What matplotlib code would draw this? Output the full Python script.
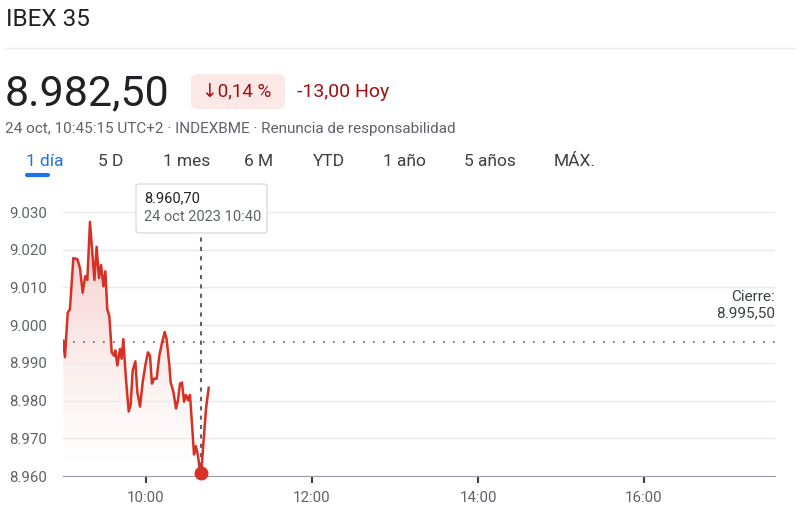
import matplotlib
matplotlib.use("Agg")
import matplotlib.pyplot as plt
import numpy as np
from matplotlib.patches import FancyBboxPatch, Polygon
plt.rcParams['font.family'] = ['Roboto', 'DejaVu Sans']

# minutes relative to 10:00
minutes = [-59.8,-58.6,-56.6,-55,-52.5,-49.6,-47.7,-45.8,-43.9,-42.4,-40.5,-38.6,-37.3,-35.7,-34,-32.5,-30.8,-29.4,-28,-26.5,-24.8,-23.1,-22.2,-20.7,-18.8,-17.6,-16.4,-14.5,-12.5,-11.1,-9.6,-7.7,-6.3,-4.3,-2.4,-0.5,1.4,2.9,4.3,5.8,7.7,9.6,11.6,13.5,14.9,16.9,17.8,19.8,21.7,23.1,24.6,26,27.5,28.9,30.4,31.8,33.3,34.7,36.1,37.6,39,40,41.4,43.4,45.3]
values = [8995.9,8991.5,9003.3,9004.2,9017.8,9017.5,9015.1,9008.6,9013,9012,9027.4,9018.2,9012,9020.8,9012.5,9016,9010.3,9014.3,9004.2,9002.4,8992.8,8991.9,8993.3,8989.3,8993.7,8991.1,8996.3,8985.8,8977.1,8978.8,8988,8990.4,8982.3,8978.4,8984.9,8989.3,8992.8,8991.9,8984.5,8985.8,8985.8,8991.9,8995.4,8998.2,8996.3,8989.3,8984.9,8982.3,8977.9,8980.1,8984.5,8984.8,8979.7,8981.5,8980.1,8981.5,8973.6,8965.7,8967.9,8965.3,8961.3,8960.6,8968.3,8977.9,8983.4]
close_value = 8995.5
marker_time = 10 + 40/60
marker_value = 8960.7
yticks = [8960, 8970, 8980, 8990, 9000, 9010, 9020, 9030]
ytick_labels = ["8.960","8.970","8.980","8.990","9.000","9.010","9.020","9.030"]
xticks = [10, 12, 14, 16]
xtick_labels = ["10:00","12:00","14:00","16:00"]
tabs = ["1 día","5 D","1 mes","6 M","YTD","1 año","5 años","MÁX."]
tab_x = [26, 98, 163, 244, 313, 383, 464, 554]

t = 10 + np.array(minutes)/60
v = np.array(values)
red = "#d93025"
W, H = 800, 514
fig = plt.figure(figsize=(8, 5.14), dpi=100)
ymin, ymax = 8960, 9034
ax = fig.add_axes([63/W, 1-476/H, 712/W, (476-197)/H])
ax.set_xlim(9, 9 + 712/83)
ax.set_ylim(ymin, ymax)

# gradient fill
poly = Polygon(np.column_stack([np.r_[t, t[-1], t[0]], np.r_[v, ymin, ymin]]), closed=True, transform=ax.transData, facecolor='none', edgecolor='none')
ax.add_patch(poly)
grad = np.linspace(0, 1, 256).reshape(-1, 1)
rgba = np.zeros((256, 1, 4)); rgba[..., 0] = 0.85; rgba[..., 1] = 0.19; rgba[..., 2] = 0.15
rgba[..., 3] = grad ** 1.3 * 0.25
im = ax.imshow(rgba, extent=[t[0], t[-1], ymin, v.max()], origin='lower', aspect='auto', zorder=1)
im.set_clip_path(poly)

ax.plot(t, v, color=red, lw=1.8, zorder=3, solid_joinstyle='round')
ax.plot([marker_time], [marker_value], 'o', color=red, ms=9, zorder=4, clip_on=False)
ax.axhline(close_value, color="#5f6368", lw=1.2, ls=(0, (1, 5)), zorder=2)
ax.plot([marker_time, marker_time], [ymin, 9034], color="#5f6368", lw=1.5, ls=(0, (2, 2.5)), zorder=2, clip_on=False)

ax.set_yticks(yticks)
ax.set_yticklabels(ytick_labels)
ax.set_xticks(xticks)
ax.set_xticklabels(xtick_labels)
ax.grid(axis='y', color="#e8eaed", lw=1)
for s in ['top', 'right', 'left']:
    ax.spines[s].set_visible(False)
ax.spines['bottom'].set_color("#9aa0a6")
ax.tick_params(axis='y', length=0, pad=39, labelsize=10.8, labelcolor="#5f6368")
for lab in ax.get_yticklabels():
    lab.set_horizontalalignment('left')
ax.tick_params(axis='x', length=5, width=1.5, color="#3c4043", labelsize=10.8, labelcolor="#5f6368", pad=6)

ax.text(1.0, (9001.2 - ymin)/(ymax - ymin), "Cierre:\n8.995,50", transform=ax.transAxes, ha='right', va='bottom', fontsize=11, color="#3c4043", linespacing=1.2)

# tooltip
tip = FancyBboxPatch((136/W, 1-233/H), 131/W, 49/H, boxstyle="round,pad=0,rounding_size=0.005", transform=fig.transFigure, facecolor='white', edgecolor='#dadce0', lw=1, zorder=10)
fig.patches.append(tip)
fig.text(144/W, 1-198/H, "8.960,70", fontsize=10.5, color="#202124", va='center', zorder=11)
fig.text(144/W, 1-217/H, "24 oct 2023 10:40", fontsize=10.5, color="#5f6368", va='center', zorder=11)

# header
fig.text(6/W, 1-20/H, "IBEX 35", fontsize=17.5, color="#202124", va='center')
fig.add_artist(plt.Line2D([6/W, 795/W], [1-48/H, 1-48/H], color="#e8eaed", lw=1))
fig.text(5/W, 1-94/H, "8.982,50", fontsize=31, color="#202124", va='center')
badge = FancyBboxPatch((191/W, 1-109/H), 94/W, 35/H, boxstyle="round,pad=0,rounding_size=0.01", transform=fig.transFigure, facecolor="#fce8e6", edgecolor='none')
fig.patches.append(badge)
fig.text(202/W, 1-92/H, "↓0,14 %", fontsize=13.5, color="#a50e0e", va='center')
fig.text(297/W, 1-92/H, "-13,00 Hoy", fontsize=14, color="#a50e0e", va='center')
fig.text(5/W, 1-129/H, "24 oct, 10:45:15 UTC+2 · INDEXBME · Renuncia de responsabilidad", fontsize=11, color="#5f6368", va='center')
for i, (lab, x) in enumerate(zip(tabs, tab_x)):
    fig.text(x/W, 1-162/H, lab, fontsize=12.5, color="#1a73e8" if i == 0 else "#3c4043", va='center')
fig.add_artist(plt.Line2D([27/W, 48/W], [1-175/H, 1-175/H], color="#1a73e8", lw=3, solid_capstyle='round'))

fig.savefig("out.png", dpi=100)
